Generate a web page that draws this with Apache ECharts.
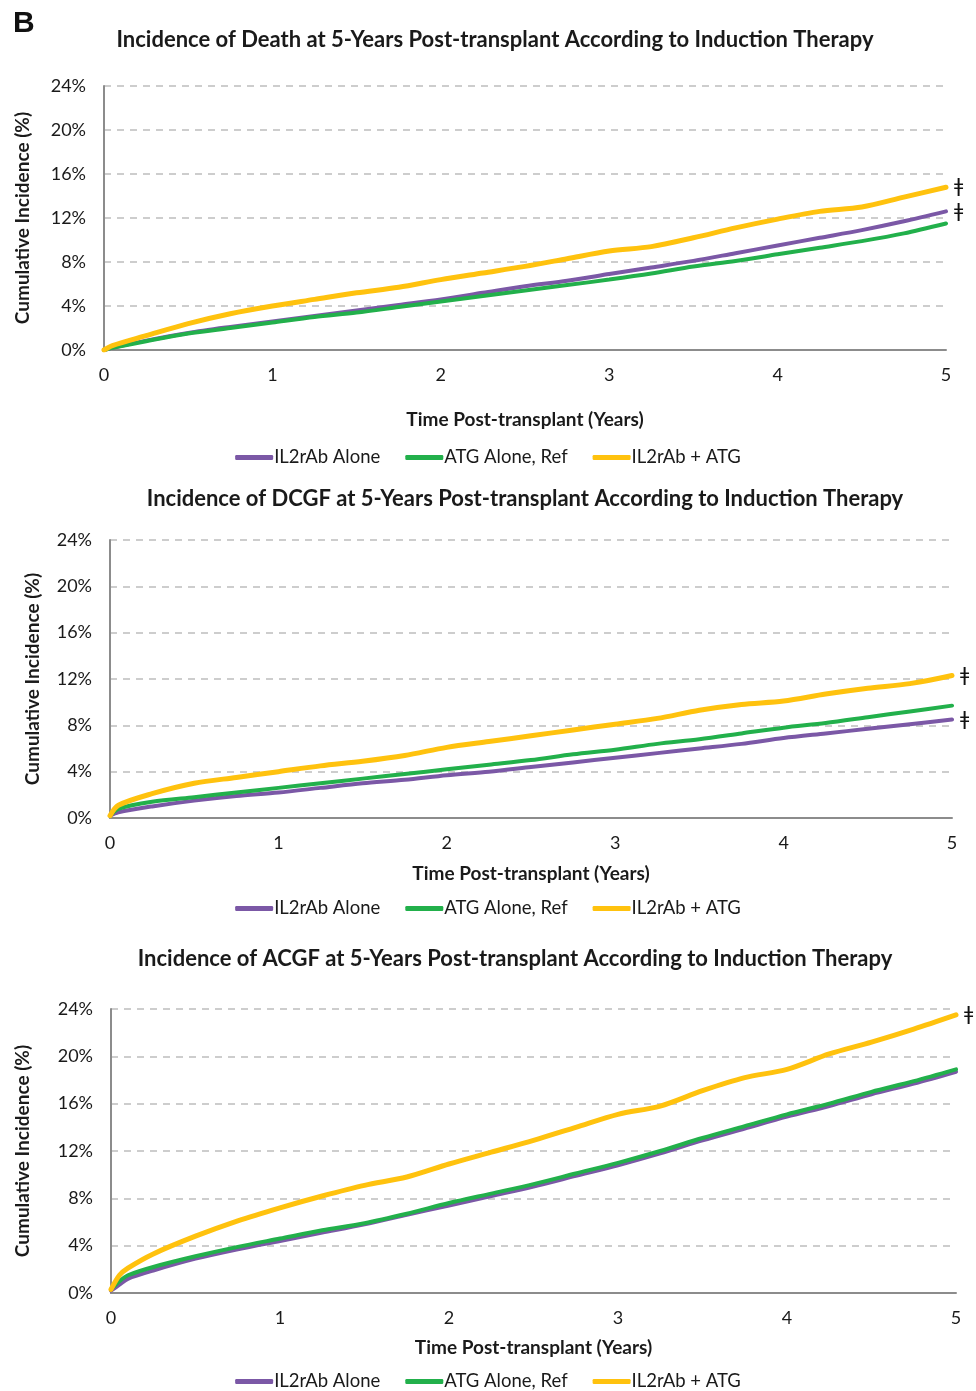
<!DOCTYPE html>
<html>
<head>
<meta charset="utf-8">
<script src="https://cdn.jsdelivr.net/npm/echarts@6/dist/echarts.min.js"></script>
<style>
  html, body { margin: 0; padding: 0; background: #fff; }
  #chart { width: 976px; height: 1391px; }
</style>
</head>
<body>
<div id="chart"></div>
<script>
// 圖例名稱
const seriesNames = ['IL2rAb Alone', 'ATG Alone, Ref', 'IL2rAb + ATG'];
const colors = ['#7B58A6', '#22B04B', '#FFC20E'];
const yTicks = [0, 4, 8, 12, 16, 20, 24];
const xTicks = [0, 1, 2, 3, 4, 5];

// Death
const deathYears = [0, 0.05, 0.25, 0.5, 0.75, 1, 1.25, 1.5, 1.75, 2, 2.25, 2.5, 2.75, 3, 3.25, 3.5, 3.75, 4, 4.25, 4.5, 4.75, 5];
const deathIl2 = [0, 0.2, 0.85, 1.55, 2.1, 2.6, 3.1, 3.6, 4.1, 4.6, 5.2, 5.8, 6.3, 6.9, 7.5, 8.1, 8.8, 9.5, 10.2, 10.9, 11.7, 12.6];
const deathAtg = [0, 0.2, 0.8, 1.5, 2.0, 2.5, 3.0, 3.4, 3.9, 4.4, 4.9, 5.4, 5.9, 6.4, 6.95, 7.6, 8.1, 8.7, 9.3, 9.9, 10.6, 11.5];
const deathBoth = [0, 0.4, 1.3, 2.4, 3.3, 4.0, 4.6, 5.2, 5.7, 6.4, 7.0, 7.6, 8.3, 9.0, 9.4, 10.2, 11.1, 11.9, 12.6, 13.0, 13.9, 14.8];

// DCGF
const dcgfYears = [0, 0.05, 0.25, 0.5, 0.75, 1, 1.25, 1.5, 1.75, 2, 2.25, 2.5, 2.75, 3, 3.25, 3.5, 3.75, 4, 4.25, 4.5, 4.75, 5];
const dcgfIl2 = [0.2, 0.5, 1.0, 1.5, 1.9, 2.2, 2.6, 3.0, 3.3, 3.7, 4.0, 4.4, 4.8, 5.2, 5.6, 6.0, 6.4, 6.9, 7.3, 7.7, 8.1, 8.5];
const dcgfAtg = [0.2, 0.8, 1.4, 1.8, 2.2, 2.6, 3.0, 3.4, 3.8, 4.2, 4.6, 5.0, 5.5, 5.9, 6.4, 6.8, 7.3, 7.8, 8.2, 8.7, 9.2, 9.7];
const dcgfBoth = [0.2, 1.1, 2.1, 3.0, 3.5, 4.0, 4.5, 4.9, 5.4, 6.1, 6.6, 7.1, 7.6, 8.1, 8.6, 9.3, 9.8, 10.1, 10.7, 11.2, 11.6, 12.3];

// ACGF
const acgfYears = [0, 0.05, 0.1, 0.25, 0.5, 0.75, 1, 1.25, 1.5, 1.75, 2, 2.25, 2.5, 2.75, 3, 3.25, 3.5, 3.75, 4, 4.25, 4.5, 4.75, 5];
const acgfIl2 = [0.2, 0.7, 1.2, 1.9, 2.9, 3.7, 4.4, 5.1, 5.8, 6.6, 7.4, 8.2, 9.0, 9.9, 10.8, 11.8, 12.9, 13.9, 14.9, 15.8, 16.8, 17.7, 18.7];
const acgfAtg = [0.3, 1.0, 1.5, 2.2, 3.1, 3.9, 4.6, 5.3, 5.9, 6.7, 7.6, 8.4, 9.2, 10.1, 11.0, 12.0, 13.1, 14.1, 15.1, 16.0, 17.0, 17.9, 18.9];
const acgfBoth = [0.3, 1.5, 2.1, 3.3, 4.8, 6.1, 7.2, 8.2, 9.1, 9.8, 10.9, 11.9, 12.9, 14.0, 15.1, 15.8, 17.1, 18.2, 18.9, 20.2, 21.2, 22.3, 23.5];

const panelTitles = [
  'Incidence of Death at 5-Years Post-transplant According to Induction Therapy',
  'Incidence of DCGF at 5-Years Post-transplant According to Induction Therapy',
  'Incidence of ACGF at 5-Years Post-transplant According to Induction Therapy'
];
// which series get the ǂ mark
const marked = [[true, false, true], [true, false, true], [false, false, true]];

const font = 'Lato, "Open Sans", sans-serif';
const textColor = '#1a1a1a';

const panels = [
  { years: deathYears, vals: [deathIl2, deathAtg, deathBoth], grid: { left: 104, top: 86, width: 842, height: 264 }, titleX: 490, titleY: 24, xGap: 60, yGap: 72, legendTop: 443 },
  { years: dcgfYears, vals: [dcgfIl2, dcgfAtg, dcgfBoth], grid: { left: 110, top: 540, width: 842, height: 278 }, titleX: 520, titleY: 483, xGap: 46, yGap: 68, legendTop: 894 },
  { years: acgfYears, vals: [acgfIl2, acgfAtg, acgfBoth], grid: { left: 111, top: 1009, width: 845, height: 284 }, titleX: 510, titleY: 943, xGap: 45, yGap: 79, legendTop: 1367 }
];

function render() {
  const dom = document.getElementById('chart');
  const myChart = echarts.init(dom, null, { renderer: 'canvas' });

  const title = [{
    text: 'B', left: 8, top: 4,
    textStyle: { fontFamily: 'Liberation Sans, Arial', fontWeight: 'bold', fontSize: 30, color: '#111' }
  }];
  const grid = [], xAxis = [], yAxis = [], legend = [], series = [];

  panels.forEach((p, i) => {
    title.push({
      text: panelTitles[i], left: p.titleX, top: p.titleY, textAlign: 'center',
      textStyle: { fontFamily: font, fontWeight: 'bold', fontSize: 22, color: textColor }
    });
    grid.push(p.grid);
    xAxis.push({
      type: 'value', gridIndex: i, min: xTicks[0], max: xTicks[xTicks.length - 1], interval: 1,
      name: 'Time Post-transplant (Years)', nameLocation: 'middle', nameGap: p.xGap,
      nameTextStyle: { fontFamily: font, fontWeight: 'bold', fontSize: 19, color: textColor },
      axisLine: { lineStyle: { color: '#8c8c8c', width: 2 } },
      axisTick: { show: false },
      axisLabel: { fontFamily: font, fontSize: 18, color: textColor, margin: 16 },
      splitLine: { show: false }
    });
    yAxis.push({
      type: 'value', gridIndex: i, min: yTicks[0], max: yTicks[yTicks.length - 1], interval: 4,
      name: 'Cumulative Incidence (%)', nameLocation: 'middle', nameGap: p.yGap,
      nameTextStyle: { fontFamily: font, fontWeight: 'bold', fontSize: 19, color: textColor },
      axisLine: { show: true, lineStyle: { color: '#8c8c8c', width: 2 } },
      axisTick: { show: false },
      axisLabel: { fontFamily: font, fontSize: 18, color: textColor, margin: 18, formatter: '{value}%' },
      splitLine: { show: true, lineStyle: { color: '#bdbdbd', width: 1.5, type: [7, 6] } }
    });
    legend.push({
      top: p.legendTop, left: 'center', data: seriesNames.slice(), itemGap: 25,
      itemWidth: 38, itemHeight: 5, icon: 'roundRect',
      textStyle: { fontFamily: font, fontSize: 18.5, color: textColor, padding: [0, 0, 0, -4] },
      selectedMode: false
    });
    seriesNames.forEach((name, k) => {
      series.push({
        type: 'line', name: name, xAxisIndex: i, yAxisIndex: i,
        data: p.years.map((t, j) => [t, p.vals[k][j]]),
        showSymbol: false, symbol: 'none', smooth: 0.3,
        color: colors[k],
        lineStyle: { color: colors[k], width: k === 2 ? 5 : 4, cap: 'round' },
        endLabel: {
          show: marked[i][k], formatter: 'ǂ', distance: 8,
          fontFamily: 'DejaVu Sans', fontSize: 20, color: '#111'
        },
        z: k + 2
      });
    });
  });

  myChart.setOption({
    backgroundColor: '#fff',
    animation: false,
    title, grid, xAxis, yAxis, legend, series
  });
  window.addEventListener('resize', myChart.resize);
}
render();
</script>
</body>
</html>
